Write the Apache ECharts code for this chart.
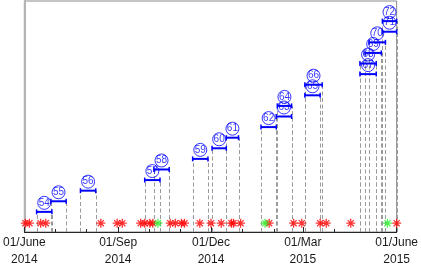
<!DOCTYPE html>
<html><head><meta charset="utf-8">
<script src="https://cdn.jsdelivr.net/npm/echarts@6/dist/echarts.min.js"></script>
<style>html,body{margin:0;padding:0;background:#fff}#c{width:421px;height:268px}</style>
</head><body><div id="c"></div>
<script>
// ---- data ----
const intervalIds   = [54,55,56,57,58,59,60,61,62,63,64,65,66,67,68,69,70,71,72];
const intervalStart = ['2014-06-13','2014-06-27','2014-07-26','2014-09-27','2014-10-06','2014-11-13','2014-12-02','2014-12-16','2015-01-19','2015-02-03','2015-02-04','2015-03-03','2015-03-03','2015-04-26','2015-04-26','2015-05-01','2015-05-05','2015-05-18','2015-05-18'];
const intervalEnd   = ['2014-06-28','2014-07-12','2014-08-10','2014-10-12','2014-10-21','2014-11-28','2014-12-16','2014-12-28','2015-02-03','2015-02-18','2015-02-18','2015-03-18','2015-03-20','2015-05-12','2015-05-12','2015-05-17','2015-05-21','2015-06-01','2015-06-01'];
const intervalLevel = [1,2,3,4,5,6,7,8,9,10,11,12,13,14,15,16,17,18,19];
const redEvents   = ['2014-06-02','2014-06-06','2014-06-17','2014-06-22','2014-08-15','2014-08-31','2014-09-05','2014-09-23','2014-09-27','2014-10-02','2014-10-05','2014-10-22','2014-10-27','2014-11-02','2014-11-05','2014-11-20','2014-12-01','2014-12-11','2014-12-21','2014-12-23','2014-12-30','2015-01-27','2015-02-20','2015-02-28','2015-03-18','2015-03-24','2015-04-17','2015-06-01'];
const greenEvents = ['2014-10-10','2015-01-23','2015-05-23'];
const axisStart = '2014-06-01', axisEnd = '2015-06-01';
const majorTickDates  = ['2014-06-01','2014-09-01','2014-12-01','2015-03-01','2015-06-01'];
const majorTickLabels = ['01/June\n2014','01/Sep\n2014','01/Dec\n2014','01/Mar\n2015','01/June\n2015'];
const minorTickDates  = ['2014-07-01','2014-08-01','2014-10-01','2014-11-01','2015-01-01','2015-02-01','2015-04-01','2015-05-01'];

// ---- build ----
const t = s => Date.parse(s);
const intervals = intervalIds.map((id,i)=>[t(intervalStart[i]), t(intervalEnd[i]), intervalLevel[i], id]);
const mids = intervalIds.map((id,i)=>[(t(intervalStart[i])+t(intervalEnd[i]))/2, intervalLevel[i], id]);
const FONT = "'Liberation Sans', Arial, sans-serif";
const star = 'path://M5,0L5,10M0,5L10,5M1.6,1.6L8.4,8.4M1.6,8.4L8.4,1.6';

const chart = echarts.init(document.getElementById('c'), null, {renderer:'canvas'});
chart.setOption({
  animation: false,
  grid: {left:21, right:21, top:1, bottom:35, show:true, borderColor:'#8a8a8a', borderWidth:1},
  xAxis: [{
    type:'value', min:t(axisStart), max:t(axisEnd), position:'bottom', scale:true,
    axisLine:{onZero:false, lineStyle:{color:'#262626', width:1}},
    axisTick:{inside:true, length:5, customValues: majorTickDates.map(t), lineStyle:{color:'#262626'}},
    axisLabel:{customValues: majorTickDates.map(t), margin:2, fontSize:12, lineHeight:17, color:'#1a1a1a', fontFamily:FONT,
      formatter: v => { const i = majorTickDates.findIndex(d => t(d) === v); return i >= 0 ? majorTickLabels[i] : ''; }},
    splitLine:{show:false}
  },{
    type:'value', min:t(axisStart), max:t(axisEnd), position:'bottom', scale:true,
    axisLine:{show:false, onZero:false},
    axisTick:{inside:true, length:3, customValues: minorTickDates.map(t), lineStyle:{color:'#262626'}},
    axisLabel:{show:false}, splitLine:{show:false}
  }],
  yAxis: {type:'value', min:-0.9, max:20.9,
    axisLine:{show:true, onZero:false, lineStyle:{color:'#b4b4b4', width:2}},
    axisTick:{show:false}, axisLabel:{show:false}, splitLine:{show:false}},
  series: [
    {type:'custom', z:1, data:intervals, encode:{x:[0,1], y:2}, silent:true,
     renderItem(params, api){
       const a = api.coord([api.value(0), api.value(2)]);
       const b = api.coord([api.value(1), api.value(2)]);
       const bottom = params.coordSys.y + params.coordSys.height;
       const st = {stroke:'#9a9a9a', lineWidth:1, lineDash:[4,2.5], fill:null};
       const xa = Math.round(a[0])+0.5, xb = Math.round(b[0])+0.5;
       return {type:'group', children:[
         {type:'line', shape:{x1:xa,y1:bottom,x2:xa,y2:a[1]}, style:st},
         {type:'line', shape:{x1:xb,y1:bottom,x2:xb,y2:b[1]}, style:st}
       ]};
     }},
    {type:'scatter', z:2, data:redEvents.map(d=>[t(d),0]), symbol:star, symbolSize:9, symbolOffset:[0,0.7], silent:true,
     itemStyle:{color:'rgba(0,0,0,0)', borderColor:'#ff0000', borderWidth:1.3}},
    {type:'scatter', z:2, data:greenEvents.map(d=>[t(d),0]), symbol:star, symbolSize:9, symbolOffset:[0,0.7], silent:true,
     itemStyle:{color:'rgba(0,0,0,0)', borderColor:'#22ee22', borderWidth:1.3}},
    {type:'custom', z:3, data:intervals, encode:{x:[0,1], y:2}, silent:true,
     renderItem(params, api){
       const a = api.coord([api.value(0), api.value(2)]);
       const b = api.coord([api.value(1), api.value(2)]);
       const c = 2.5, s = {stroke:'#0000ff', lineWidth:2};
       return {type:'group', children:[
         {type:'line', shape:{x1:a[0],y1:a[1],x2:b[0],y2:b[1]}, style:s},
         {type:'line', shape:{x1:a[0],y1:a[1]-c,x2:a[0],y2:a[1]+c}, style:{stroke:'#0000ff', lineWidth:1.5}},
         {type:'line', shape:{x1:b[0],y1:b[1]-c,x2:b[0],y2:b[1]+c}, style:{stroke:'#0000ff', lineWidth:1.5}}
       ]};
     }},
    {type:'scatter', z:4, data:mids, symbol:'circle', symbolSize:[13,13], symbolOffset:[0,-9], silent:true,
     itemStyle:{color:'rgba(255,255,255,0)', borderColor:'#0000ff', borderWidth:1},
     label:{show:true, position:'inside', color:'#0000ff', fontSize:10, fontFamily:FONT, formatter: p => String(p.data[2])}}
  ]
});
</script></body></html>
